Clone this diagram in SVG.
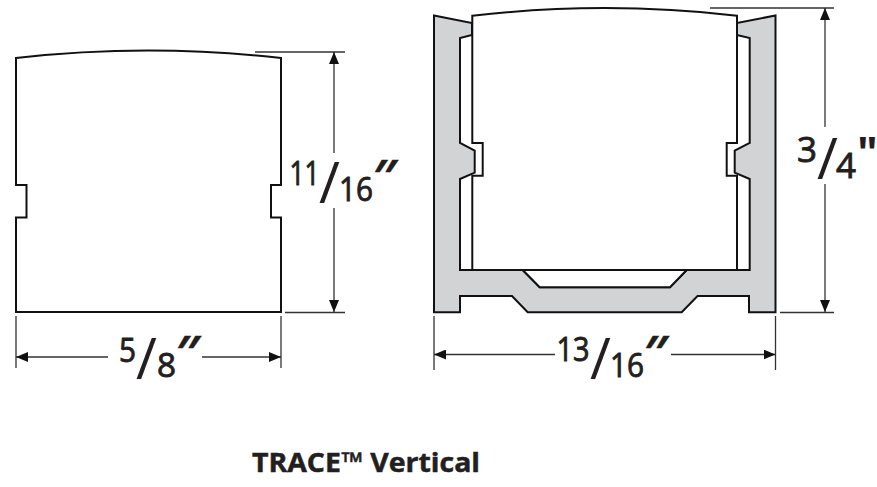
<svg xmlns="http://www.w3.org/2000/svg" width="877" height="487" viewBox="0 0 877 487">
<style>
.o{fill:#fff;stroke:#111;stroke-width:2;stroke-linejoin:miter}
.g{fill:#d1d3d4;stroke:#111;stroke-width:2;stroke-linejoin:miter}
.d{fill:none;stroke:#333;stroke-width:1.3}
.t{font-family:"Open Sans","Noto Sans",sans-serif;fill:#231f20;stroke:#231f20;stroke-width:.9;font-size:33px}
.s{font-size:57px;stroke-width:0}
.q{font-size:46px;font-style:italic;font-weight:700;stroke-width:.3}
.b{font-size:35px}
.h{font-family:"Open Sans","Noto Sans",sans-serif;fill:#231f20;stroke:#231f20;stroke-width:.5;font-size:27px;font-weight:700}
</style>
<defs>
<marker id="a" markerUnits="userSpaceOnUse" markerWidth="13" markerHeight="10" refX="12" refY="5" orient="auto-start-reverse"><path d="M0 0L12 5L0 10Z" fill="#111"/></marker>
</defs>
<rect width="877" height="487" fill="#fff"/>
<g id="profile-left"><path class="o" d="M16 58Q148 43 281 58V185H271V217.500H281V312H16V217.500H26.500V185H16Z"/></g>
<g id="housing"><path class="g" d="M434 15.500L472 23V35L460 38V143L474.700 150.700V172.700L460 179V270H522.700L539.700 287.300H670L686.700 270H749.700V179L734.700 172.700V150.700L749.700 143V38L736.700 35V23L775.500 15.500V312.300H749V296H697.500L681.700 312.300H527.700L512 296H460V312.300H434Z"/><path d="M522.700 270L539.700 287.300H670L686.700 270Z" fill="#fff"/></g>
<g id="profile-right"><path class="o" d="M472.300 15.700Q605 0.500 737 15.700V143H726.700V175.700H737V270H472.300V175.700H482.700V143H472.300Z"/><path d="M522.700 270L539.700 287.300H670L686.700 270" fill="none" stroke="#111" stroke-width="2"/><path d="M460 270H750" fill="none" stroke="#111" stroke-width="2"/></g>
<g id="connectors">
<path class="d" d="M255 52H345M285 312.500H345M710 8H834M780 312.500H834M16 316V368M281 316V368M434 316V370M775.500 316V370"/>
<path class="d" marker-end="url(#a)" d="M334 153V52"/>
<path class="d" marker-end="url(#a)" d="M334 208V312"/>
<path class="d" marker-end="url(#a)" d="M825 127V8"/>
<path class="d" marker-end="url(#a)" d="M825 184V312"/>
<path class="d" marker-end="url(#a)" d="M108 357H16"/>
<path class="d" marker-end="url(#a)" d="M202 357H281"/>
<path class="d" marker-end="url(#a)" d="M555 354.500H434"/>
<path class="d" marker-end="url(#a)" d="M671 354.500H775.500"/>
</g>
<g id="label-height-left"><text class="t" x="289.500" y="185" textLength="30" lengthAdjust="spacingAndGlyphs">11</text><text class="t s" x="319" y="203">/</text><text class="t" x="339" y="201" textLength="34" lengthAdjust="spacingAndGlyphs">16</text><text class="t q" x="372" y="193">″</text></g>
<g id="label-width-left"><text class="t" x="119" y="361.500" textLength="17" lengthAdjust="spacingAndGlyphs">5</text><text class="t s" x="136" y="379">/</text><text class="t" x="157" y="377" textLength="19" lengthAdjust="spacingAndGlyphs">8</text><text class="t q" x="175" y="369">″</text></g>
<g id="label-width-right"><text class="t" x="556.500" y="361" textLength="33" lengthAdjust="spacingAndGlyphs">13</text><text class="t s" x="590" y="379">/</text><text class="t" x="610" y="377" textLength="34" lengthAdjust="spacingAndGlyphs">16</text><text class="t q" x="643" y="369">″</text></g>
<g id="label-height-right"><text class="t b" x="797" y="162" textLength="20" lengthAdjust="spacingAndGlyphs">3</text><text class="t s" x="817" y="179">/</text><text class="t b" x="836" y="178" textLength="20" lengthAdjust="spacingAndGlyphs">4</text><text class="t" style="font-size:44px;font-weight:700;stroke-width:0" x="857" y="169">"</text></g>
<g id="title"><text class="h" x="252" y="472" textLength="228" lengthAdjust="spacingAndGlyphs">TRACE™ Vertical</text></g>
</svg>
